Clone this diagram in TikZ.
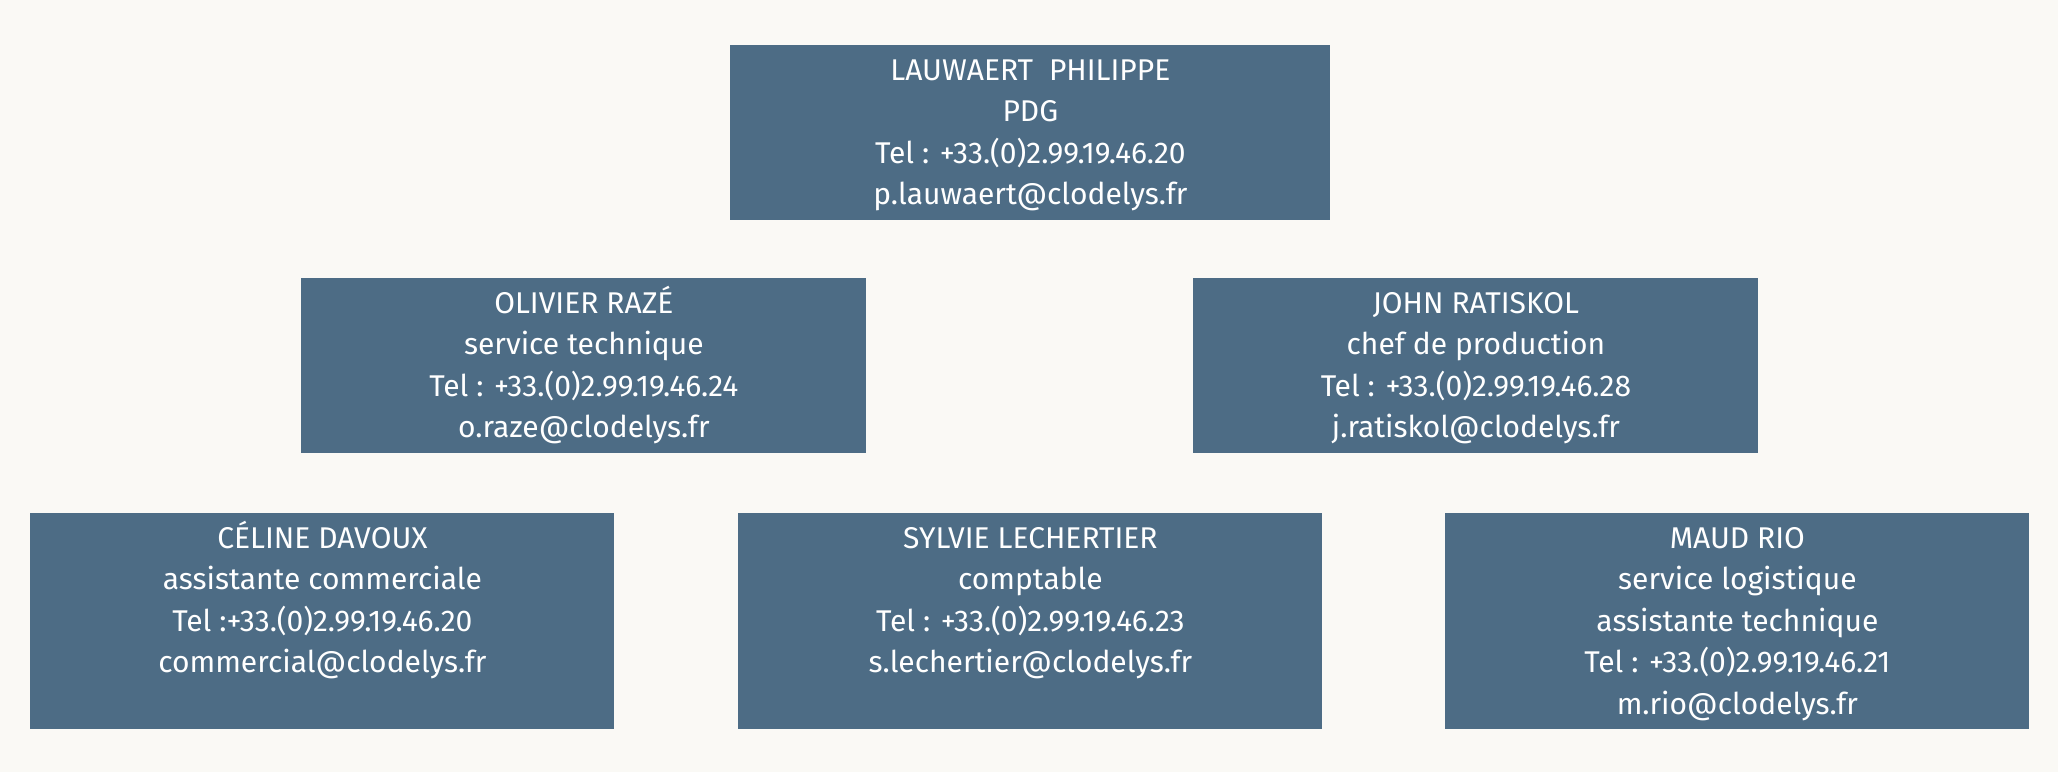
\documentclass[tikz,border=0pt]{standalone}
\usepackage{fontspec}
\setmainfont{Fira Sans}
\definecolor{bgc}{HTML}{FAF9F5}
\definecolor{boxc}{HTML}{4D6C85}
\newcommand\firstln{\rule{0pt}{17.5pt}}
\begin{document}
\begin{tikzpicture}[x=0.5pt,y=-0.5pt,
  box/.style={fill=boxc, draw=none, inner sep=0, minimum height=87.2pt, anchor=north west},
  wide/.style={box, minimum width=300pt},
  mid/.style={box, minimum width=282.5pt},
  low/.style={box, minimum width=292pt, minimum height=107.8pt},
  lbl/.style={anchor=north, inner sep=0, align=center, text=white, font=\fontsize{15}{20.7}\selectfont}]
\fill[bgc] (0,0) rectangle (2058,772);
\useasboundingbox (0,0) rectangle (2058,772);
\node[wide] (pdg) at (730,45) {};
\node[mid] (tech) at (301,278) {};
\node[mid] (prod) at (1193,278) {};
\node[low] (comm) at (30,513) {};
\node[low] (compta) at (738,513) {};
\node[low] (logi) at (1445,513) {};
\node[lbl] (tpdg) at (pdg.north) {\firstln LAUWAERT\ \ PHILIPPE\\PDG\\Tel : +33.(0)2.99.19.46.20\\p.lauwaert@clodelys.fr};
\node[lbl] (ttech) at (tech.north) {\firstln OLIVIER RAZÉ\\service technique\\Tel : +33.(0)2.99.19.46.24\\o.raze@clodelys.fr};
\node[lbl] (tprod) at (prod.north) {\firstln JOHN RATISKOL\\chef de production\\Tel : +33.(0)2.99.19.46.28\\j.ratiskol@clodelys.fr};
\node[lbl] (tcomm) at (comm.north) {\firstln CÉLINE DAVOUX\\assistante commerciale\\Tel :+33.(0)2.99.19.46.20\\commercial@clodelys.fr};
\node[lbl] (tcompta) at (compta.north) {\firstln SYLVIE LECHERTIER\\comptable\\Tel : +33.(0)2.99.19.46.23\\s.lechertier@clodelys.fr};
\node[lbl] (tlogi) at (logi.north) {\firstln MAUD RIO\\service logistique\\assistante technique\\Tel : +33.(0)2.99.19.46.21\\m.rio@clodelys.fr};
\end{tikzpicture}
\end{document}
